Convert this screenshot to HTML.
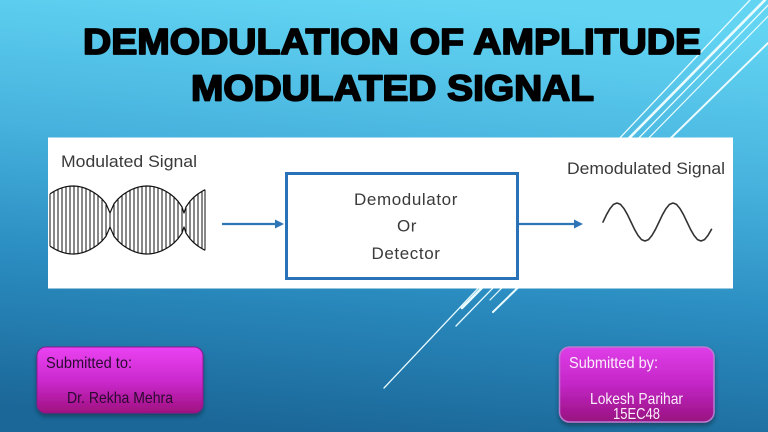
<!DOCTYPE html>
<html>
<head>
<meta charset="utf-8">
<style>
  html,body{margin:0;padding:0;width:768px;height:432px;overflow:hidden;background:#2a8cc0;}
  svg{display:block;}
</style>
</head>
<body>
<svg width="768" height="432" viewBox="0 0 768 432" xmlns="http://www.w3.org/2000/svg">
  <defs>
    <linearGradient id="bg" x1="0.55" y1="0" x2="0.4" y2="1">
      <stop offset="0" stop-color="#63d5f3"/>
      <stop offset="0.35" stop-color="#47b3de"/>
      <stop offset="0.65" stop-color="#2b8dc1"/>
      <stop offset="1" stop-color="#1b6798"/>
    </linearGradient>
    <linearGradient id="mag1" x1="0" y1="0" x2="0" y2="1">
      <stop offset="0" stop-color="#ea42f2"/>
      <stop offset="0.5" stop-color="#cc2ad0"/>
      <stop offset="1" stop-color="#a0107f"/>
    </linearGradient>
    <linearGradient id="mag2" x1="0" y1="0" x2="0" y2="1">
      <stop offset="0" stop-color="#df3ee8"/>
      <stop offset="0.5" stop-color="#c326c6"/>
      <stop offset="1" stop-color="#98127f"/>
    </linearGradient>
    <filter id="sh" x="-20%" y="-20%" width="140%" height="150%">
      <feDropShadow dx="0" dy="3" stdDeviation="2" flood-color="#0a2a40" flood-opacity="0.6"/>
    </filter>
  </defs>

  <!-- background -->
  <rect x="0" y="0" width="768" height="432" fill="url(#bg)"/>

  <!-- diagonal decorative lines -->
  <g stroke="#eafcff" stroke-linecap="round" fill="none">
    <line x1="750" y1="0" x2="384" y2="388" stroke-width="1.3"/>
    <line x1="765" y1="0" x2="462" y2="308" stroke-width="2.6"/>
    <line x1="773" y1="0" x2="456" y2="326" stroke-width="1.3"/>
    <line x1="784" y1="0" x2="490" y2="300" stroke-width="1.2"/>
    <line x1="768" y1="43" x2="493" y2="312" stroke-width="2"/>
  </g>

  <!-- title -->
  <g font-family="'Liberation Sans', sans-serif" font-weight="bold" font-size="36.5" fill="#000" stroke="#000" stroke-width="1.8" stroke-linejoin="round">
    <text x="83" y="54" textLength="618" lengthAdjust="spacingAndGlyphs">DEMODULATION OF AMPLITUDE</text>
    <text x="191" y="100.5" textLength="403" lengthAdjust="spacingAndGlyphs">MODULATED SIGNAL</text>
  </g>

  <!-- white diagram box -->
  <rect x="48" y="137.5" width="685" height="151" fill="#ffffff"/>

  <!-- labels -->
  <g font-family="'Liberation Sans', sans-serif" font-size="17" fill="#3a3a3a">
    <text x="61" y="167" textLength="136" lengthAdjust="spacingAndGlyphs">Modulated Signal</text>
    <text x="567" y="174" textLength="158" lengthAdjust="spacingAndGlyphs">Demodulated Signal</text>
    <text x="406" y="205" text-anchor="middle" letter-spacing="0.6">Demodulator</text>
    <text x="407" y="231.5" text-anchor="middle" letter-spacing="0.6">Or</text>
    <text x="406" y="259" text-anchor="middle" letter-spacing="0.6">Detector</text>
  </g>

  <!-- modulated waveform: envelope -->
  <g fill="none" stroke="#111" stroke-width="1.2" stroke-linejoin="round">
    <polyline points="50,193.9 54,191.4 58,189.3 62,187.8 66,186.7 70,186.1 74,186 78,186.4 82,187.2 86,188.5 90,190.3 94,192.6 98,195.4 102,199 106,203.7 110,213 114,203.7 118,199 122,195.4 126,192.6 130,190.3 134,188.5 138,187.2 142,186.4 146,186 150,186.1 154,186.7 158,187.8 162,189.3 166,191.4 170,193.9 174,197.1 178,201.2 182,206.9 184,213 186,206.9 190,201.2 194,197.1 198,193.9 202,191.4 205,189.7"/>
    <polyline points="50,246.1 54,248.6 58,250.7 62,252.2 66,253.3 70,253.9 74,254 78,253.6 82,252.8 86,251.5 90,249.7 94,247.4 98,244.6 102,241 106,236.3 110,227 114,236.3 118,241 122,244.6 126,247.4 130,249.7 134,251.5 138,252.8 142,253.6 146,254 150,253.9 154,253.3 158,252.2 162,250.7 166,248.6 170,246.1 174,242.9 178,238.8 182,233.1 184,227 186,233.1 190,238.8 194,242.9 198,246.1 202,248.6 205,250.3"/>
    <path stroke-width="1" d="M50 193.9V246.1 M54 191.4V248.6 M58 189.3V250.7 M62 187.8V252.2 M66 186.7V253.3 M70 186.1V253.9 M74 186V254 M78 186.4V253.6 M82 187.2V252.8 M86 188.5V251.5 M90 190.3V249.7 M94 192.6V247.4 M98 195.4V244.6 M102 199V241 M106 203.7V236.3 M110 213V227 M114 203.7V236.3 M118 199V241 M122 195.4V244.6 M126 192.6V247.4 M130 190.3V249.7 M134 188.5V251.5 M138 187.2V252.8 M142 186.4V253.6 M146 186V254 M150 186.1V253.9 M154 186.7V253.3 M158 187.8V252.2 M162 189.3V250.7 M166 191.4V248.6 M170 193.9V246.1 M174 197.1V242.9 M178 201.2V238.8 M182 206.9V233.1 M186 206.9V233.1 M190 201.2V238.8 M194 197.1V242.9 M198 193.9V246.1 M202 191.4V248.6 M205 189.7V250.3"/>
  </g>

  <!-- arrows -->
  <g stroke="#2e75b6" stroke-width="2.2" fill="#2e75b6">
    <line x1="222" y1="224" x2="277" y2="224"/>
    <polygon points="284,224 275,219.5 275,228.5" stroke="none"/>
    <line x1="519" y1="224" x2="576" y2="224"/>
    <polygon points="583,224 574,219.5 574,228.5" stroke="none"/>
  </g>

  <!-- demodulator box -->
  <rect x="286.5" y="173.5" width="231" height="105" fill="none" stroke="#2a72b8" stroke-width="3"/>

  <!-- demodulated sine -->
  <polyline fill="none" stroke="#333" stroke-width="1.6" stroke-linejoin="round" stroke-linecap="round"
    points="603,222 606.5,214.7 610,208.6 613.5,204.4 617,203 620.5,204.4 624,208.6 627.5,214.7 631,222 634.5,229.3 638,235.4 641.5,239.6 645,241 648.5,239.6 652,235.4 655.5,229.3 659,222 662.5,214.7 666,208.6 669.5,204.4 673,203 676.5,204.4 680,208.6 683.5,214.7 687,222 690.5,229.3 694,235.4 697.5,239.6 701,241 704.5,239.6 708,235.4 711.5,229.3"/>

  <!-- bottom boxes -->
  <rect x="37" y="347" width="166" height="66" rx="9" ry="9" fill="url(#mag1)" stroke="#8a1a8e" stroke-width="1" filter="url(#sh)"/>
  <rect x="559.5" y="347" width="154.5" height="75" rx="10" ry="10" fill="url(#mag2)" stroke="#b77ad0" stroke-width="1.5" filter="url(#sh)"/>

  <g font-family="'Liberation Sans', sans-serif" font-size="16">
    <text x="46" y="368" fill="#2a0a30" textLength="86" lengthAdjust="spacingAndGlyphs">Submitted to:</text>
    <text x="67" y="403" fill="#2a0a30" textLength="106" lengthAdjust="spacingAndGlyphs">Dr. Rekha Mehra</text>
    <text x="569" y="368" fill="#fbeefb" textLength="89" lengthAdjust="spacingAndGlyphs">Submitted by:</text>
    <text x="590" y="404" fill="#fbeefb" textLength="93" lengthAdjust="spacingAndGlyphs">Lokesh Parihar</text>
    <text x="613" y="419" fill="#fbeefb" textLength="47" lengthAdjust="spacingAndGlyphs">15EC48</text>
  </g>
</svg>
</body>
</html>
